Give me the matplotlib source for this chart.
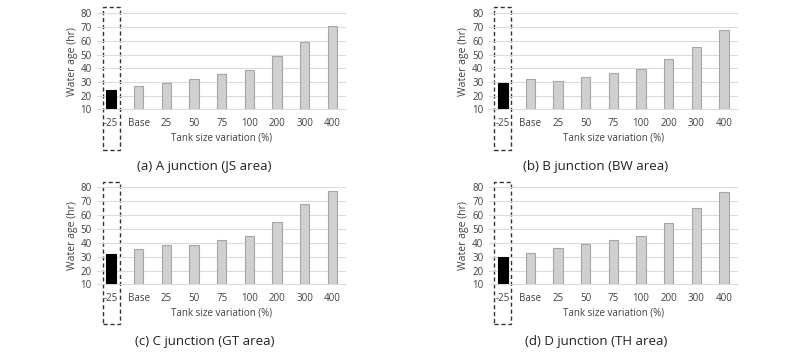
import matplotlib
matplotlib.use('Agg')
import matplotlib.pyplot as plt
import matplotlib.transforms as mtransforms
from matplotlib.patches import Rectangle

plt.rcParams['font.family'] = ['Open Sans', 'DejaVu Sans']

categories = ['-25', 'Base', '25', '50', '75', '100', '200', '300', '400']
age_a = [24, 27, 29, 32.5, 35.5, 38.5, 49, 59.5, 70.5]
age_b = [29.5, 32, 30.7, 33.3, 36.5, 39.4, 46.7, 55.7, 67.8]
age_c = [32.2, 35.5, 38.6, 38.6, 41.8, 44.6, 55, 67.7, 77.3]
age_d = [30, 33, 36, 38.8, 42, 45, 54.4, 65, 76.8]
captions = ['(a) A junction (JS area)', '(b) B junction (BW area)',
            '(c) C junction (GT area)', '(d) D junction (TH area)']

fig = plt.figure(figsize=(8, 3.55), dpi=100)
# axes boxes (left, bottom, width, height) in figure fraction
boxes = [(0.1216, 0.692, 0.311, 0.270), (0.6113, 0.692, 0.311, 0.270),
         (0.1216, 0.199, 0.311, 0.273), (0.6113, 0.199, 0.311, 0.273)]
cap_pos = [(0.255, 0.532), (0.744, 0.532), (0.256, 0.038), (0.745, 0.038)]
box_y = [(-0.424, 1.066), (-0.424, 1.066), (-0.412, 1.058), (-0.412, 1.058)]

txt = '#404040'
x = list(range(len(categories)))
for i, vals in enumerate([age_a, age_b, age_c, age_d]):
    ax = fig.add_axes(boxes[i])
    ax.bar(x[1:], [v - 10 for v in vals[1:]], bottom=10, width=0.34,
           color='#d0d0d0', edgecolor='#a6a6a6', linewidth=0.8, zorder=3)
    ax.bar(x[0], vals[0] - 10, bottom=10, width=0.34,
           color='black', edgecolor='black', linewidth=0.8, zorder=3)
    ax.set_xlim(-0.5, len(categories) - 0.5)
    ax.set_ylim(10, 80)
    ax.set_yticks(range(10, 81, 10))
    ax.set_xticks(x)
    ax.set_xticklabels(categories)
    ax.tick_params(length=0, labelsize=7, colors=txt, pad=4)
    ax.tick_params(axis='x', pad=6)
    ax.grid(axis='y', color='#d9d9d9', linewidth=0.7, zorder=0)
    for s in ['top', 'right', 'left']:
        ax.spines[s].set_visible(False)
    ax.spines['bottom'].set_color('#d9d9d9')
    ax.spines['bottom'].set_linewidth(0.7)
    ax.set_xlabel('Tank size variation (%)', fontsize=7, color=txt, labelpad=3)
    ax.set_ylabel('Water age (hr)', fontsize=7.5, color=txt, labelpad=2)

    trans = mtransforms.blended_transform_factory(ax.transData, ax.transAxes)
    y0, y1 = box_y[i]
    ax.add_patch(Rectangle((-0.31, y0), 0.62, y1 - y0, transform=trans,
                           fill=False, edgecolor='#333333', linestyle=(0, (3, 2)),
                           linewidth=1.0, clip_on=False))
    fig.text(cap_pos[i][0], cap_pos[i][1], captions[i], ha='center', va='center',
             fontsize=9.5, color='#222222')

fig.savefig('out.png', dpi=100)
